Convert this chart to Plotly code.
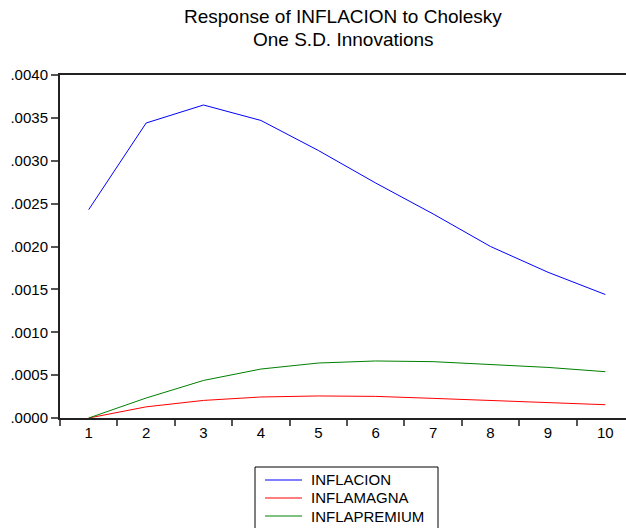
import plotly.graph_objects as go

periods = [1, 2, 3, 4, 5, 6, 7, 8, 9, 10]
inflacion = [0.00243, 0.00344, 0.00365, 0.00347, 0.00312, 0.00274, 0.00238, 0.00200, 0.00170, 0.00144]
inflamagna = [0.0, 0.000130, 0.000205, 0.000245, 0.000257, 0.000252, 0.000229, 0.000202, 0.000178, 0.000155]
inflapremium = [0.0, 0.000233, 0.000438, 0.000571, 0.000641, 0.000665, 0.000657, 0.000625, 0.000590, 0.000540]

series_names = ["INFLACION", "INFLAMAGNA", "INFLAPREMIUM"]
series_colors = ["#0000FF", "#FF0000", "#008000"]

y_tickvals = [0.0, 0.0005, 0.0010, 0.0015, 0.0020, 0.0025, 0.0030, 0.0035, 0.0040]
y_ticktext = [".0000", ".0005", ".0010", ".0015", ".0020", ".0025", ".0030", ".0035", ".0040"]
x_boundaries = [0.5, 1.5, 2.5, 3.5, 4.5, 5.5, 6.5, 7.5, 8.5, 9.5, 10.5]

title_lines = ["Response of INFLACION to Cholesky", "One S.D. Innovations"]

FONT = "Liberation Sans, Arial, sans-serif"

# layout geometry (pixels)
W, H = 626, 528
L, R, T, B = 60, 0, 75, 110
PW, PH = W - L - R, H - T - B


def px_x(px):
    return (px - L) / PW


def px_y(py):
    return (H - B - py) / PH


fig = go.Figure()
for name, color, vals in zip(series_names, series_colors, [inflacion, inflamagna, inflapremium]):
    fig.add_trace(go.Scatter(x=periods, y=vals, mode="lines", name=name,
                             line=dict(color=color, width=1), showlegend=False))

annotations = []
annotations.append(dict(text=title_lines[0], xref="paper", yref="paper",
                        x=0.5, y=px_y(29), xanchor="center", yanchor="bottom",
                        showarrow=False, font=dict(family=FONT, size=19, color="black")))
annotations.append(dict(text=title_lines[1], xref="paper", yref="paper",
                        x=0.5, y=px_y(52), xanchor="center", yanchor="bottom",
                        showarrow=False, font=dict(family=FONT, size=19, color="black")))

shapes = []
# legend box
shapes.append(dict(type="rect", xref="paper", yref="paper",
                   x0=px_x(255), x1=px_x(438), y0=px_y(467), y1=px_y(545),
                   line=dict(color="black", width=1), fillcolor="white", layer="above"))
legend_rows = [480, 498, 516]
for name, color, ry in zip(series_names, series_colors, legend_rows):
    shapes.append(dict(type="line", xref="paper", yref="paper",
                       x0=px_x(265), x1=px_x(302), y0=px_y(ry), y1=px_y(ry),
                       line=dict(color=color, width=1), layer="above"))
    annotations.append(dict(text=name, xref="paper", yref="paper",
                            x=px_x(309), y=px_y(ry), xanchor="left", yanchor="middle",
                            showarrow=False, font=dict(family=FONT, size=15, color="black")))

fig.update_layout(
    width=W, height=H,
    margin=dict(l=L, r=R, t=T, b=B, pad=0),
    paper_bgcolor="white", plot_bgcolor="white",
    font=dict(family=FONT, size=15, color="black"),
    showlegend=False,
    annotations=annotations,
    shapes=shapes,
)

fig.update_xaxes(
    range=[0.5, 10.36], automargin=False,
    tickvals=periods, ticktext=[str(p) for p in periods],
    ticks="", showgrid=False, zeroline=False,
    showline=True, linecolor="#222222", linewidth=2, mirror=True,
    minor=dict(tickvals=x_boundaries, ticks="outside", ticklen=6, tickcolor="#555555",
               tickwidth=1.5, showgrid=False),
    tickfont=dict(family=FONT, size=15, color="black"),
)
fig.update_yaxes(
    range=[0, 0.0040], automargin=False,
    tickvals=y_tickvals, ticktext=y_ticktext,
    ticks="outside", ticklen=7, tickcolor="#555555", tickwidth=1.5,
    showgrid=False, zeroline=False,
    showline=True, linecolor="#222222", linewidth=2,
    tickfont=dict(family=FONT, size=15, color="black"),
)

fig.write_html("out.html", config={"displayModeBar": False},
               post_script="document.body.style.margin='0';")
